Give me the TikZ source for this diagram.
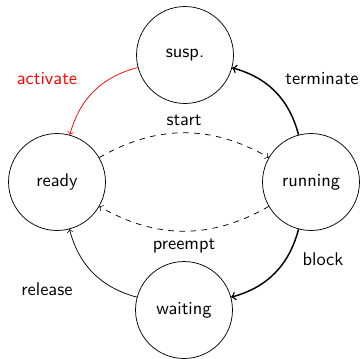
\documentclass[tikz,border=0pt]{standalone}
\usetikzlibrary{arrows}
\begin{document}
\begin{tikzpicture}[x=0.5435pt,y=-0.5435pt,
  font=\sffamily,
  state/.style={draw,circle,minimum size=52.7pt,inner sep=0pt},
  trans/.style={->,>=to},
  lbl/.style={inner sep=1pt}]
\useasboundingbox (0,0) rectangle (360,358);

% states
\node[state] (susp) at (185,55) {susp.};
\node[state] (ready) at (57,182) {ready};
\node[state] (running) at (311,182) {running};
\node[state] (waiting) at (184,310) {waiting};

% transitions
\draw[trans,red] (susp) to[bend right=30] (ready);
\draw[trans,dashed] (ready) to[bend left=30] (running);
\draw[trans,dashed] (running) to[bend left=30] (ready);
\draw[trans,thick] (running) to[bend right=30] (susp);
\draw[trans,thick] (running) to[bend left=30] (waiting);
\draw[trans] (waiting) to[bend left=30] (ready);

% transition labels
\node[lbl,text=red] (l-act) at (47,79) {activate};
\node[lbl] (l-term) at (322,79) {terminate};
\node[lbl] (l-start) at (184,120) {start};
\node[lbl] (l-pre) at (184,246) {preempt};
\node[lbl] (l-rel) at (47,289) {release};
\node[lbl] (l-blk) at (323,259) {block};
\end{tikzpicture}
\end{document}
